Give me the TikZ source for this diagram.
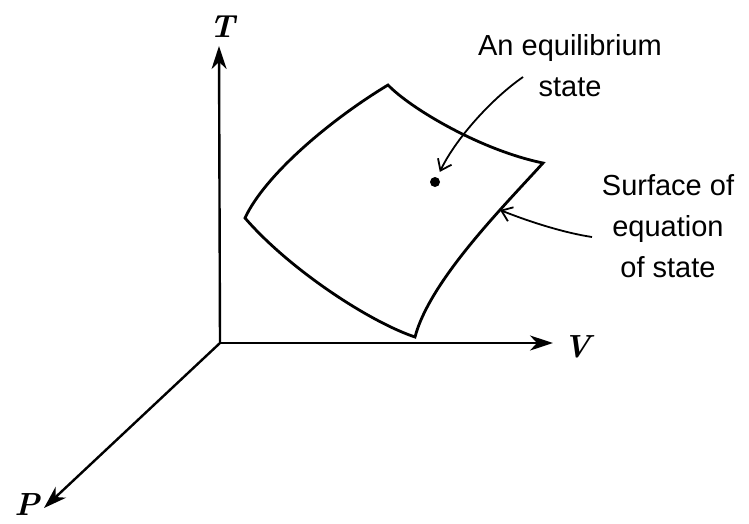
\documentclass[tikz,border=0pt]{standalone}
\usepackage{fontspec}
\usepackage{tikz}
\usetikzlibrary{arrows.meta}
\newfontfamily\callfont{Liberation Sans}

\begin{document}
\begin{tikzpicture}[x=1pt,y=-1pt,>=Stealth,
    axis/.style={line width=2.4pt,-{Stealth[length=23pt,width=15pt,inset=7pt]}},
    edge/.style={line width=2.8pt,line join=miter},
    callout/.style={line width=1.8pt,-{Straight Barb[length=10pt,width=15pt]}},
    calltext/.style={font=\callfont\fontsize{29}{41}\selectfont,align=center},
    axlabel/.style={font=\fontsize{32}{36}\selectfont\bfseries\itshape}]
  \useasboundingbox (0,0) rectangle (749,523);
  \coordinate (O) at (220,343);\coordinate (Tend) at (219,46);\coordinate (Vend) at (553,343);\coordinate (Pend) at (44,508);
  \draw[axis] (O)--(Tend);\draw[axis] (O)--(Vend);\draw[axis] (O)--(Pend);
  \node[axlabel] (T) at (222,27) {T};
  \node[axlabel] (V) at (577,347) {V};
  \node[axlabel] (P) at (27,505) {P};
  \coordinate (top) at (388,85);\coordinate (rgt) at (543,163);\coordinate (bot) at (415,337);\coordinate (lft) at (245,218);
  \draw[edge] (lft) .. controls (265,175) and (330,120) .. (top) .. controls (410,108) and (480,150) .. (rgt)
    .. controls (505,205) and (430,280) .. (bot) .. controls (370,322) and (290,270) .. cycle;
  \node[circle,fill,inner sep=0pt,minimum size=10pt] (eq) at (435,182) {};
  \node[calltext] (eqlab) at (570,66) {An equilibrium\\state};
  \node[calltext] (srflab) at (668,226) {Surface of\\equation\\of state};
  \coordinate (eqtail) at (523,77);\coordinate (srftail) at (592,237);\coordinate (srfpt) at (500,210);
  \draw[callout,shorten >=6pt] (eqtail) .. controls (490,100) and (455,140) .. (eq);
  \draw[callout] (srftail) .. controls (565,233) and (530,222) .. (srfpt);
\end{tikzpicture}
\end{document}
